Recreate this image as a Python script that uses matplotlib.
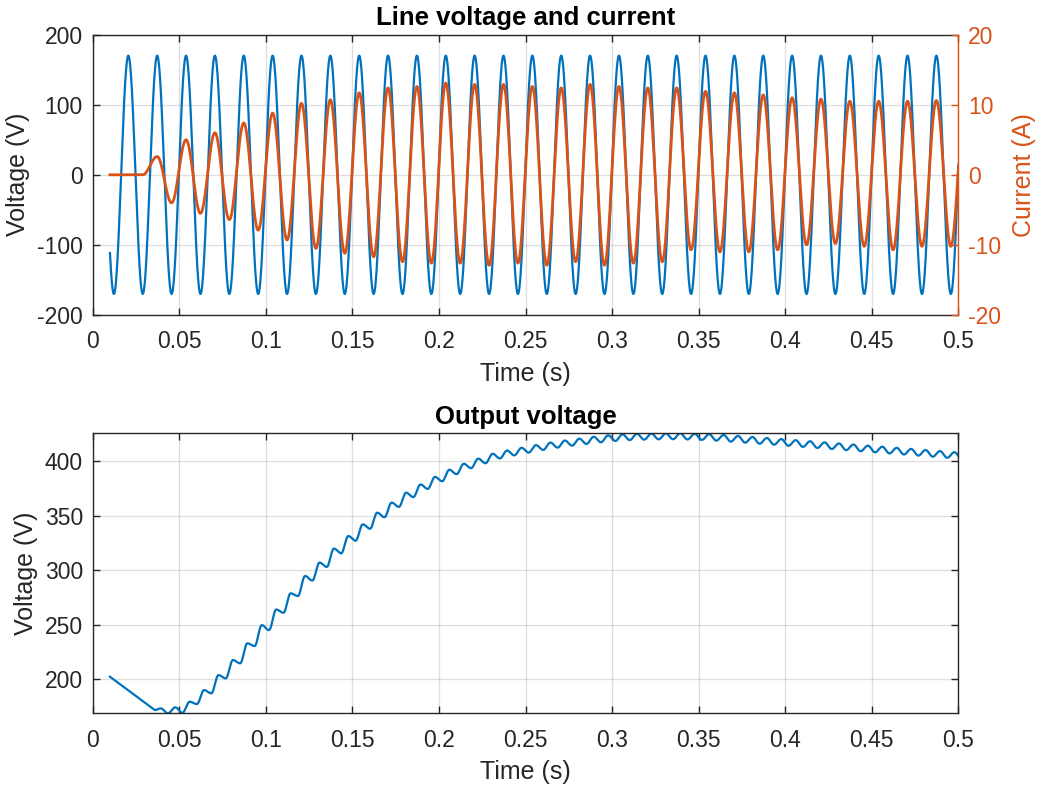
import numpy as np
import matplotlib
matplotlib.use("Agg")
import matplotlib.pyplot as plt
from matplotlib.ticker import FuncFormatter

# ---------------- data ----------------
t_start = 0.01
t_end = 0.5
line_freq_hz = 60.0
first_voltage_peak_t = 0.0206      # time of the first positive line-voltage peak
first_half_cycle_index = -2        # half-cycle index of the first listed extreme

# line voltage extremes, one per half cycle (V), k = -2 .. 59
line_voltage_extremes = [170, -170] * 31

# line current extremes, one per half cycle (A), k = -2 .. 59
line_current_extremes = [
    0, 0, 0, 0, 2.6, -4.0, 5.0, -5.5, 6.0, -6.4,
    7.4, -7.9, 8.8, -9.3, 10.2, -10.5, 10.7, -11.2, 11.7, -11.7,
    12.4, -12.4, 12.6, -12.6, 13.1, -12.6, 12.9, -12.9, 12.9, -12.6,
    12.6, -12.9, 12.4, -12.4, 12.9, -12.9, 12.6, -12.6, 12.4, -12.4,
    12.4, -10.7, 11.9, -11.0, 11.7, -11.0, 11.4, -10.7, 11.0, -10.0,
    10.8, -9.8, 10.5, -10.2, 10.5, -10.7, 10.5, -10.2, 10.6, -10.2,
    10.5, -10.5,
]

# output voltage: initial discharge segment (no ripple yet)
vout_initial_t = [0.01, 0.0358]
vout_initial_v = [202.4, 171.9]
# output voltage ripple maxima / minima, one pair per line half cycle, k = 2 .. 57
vout_first_ripple_index = 2
vout_ripple_max = [
    173.4, 174.4, 179.5, 190.2, 203.9, 217.7, 233.0, 249.7, 264.0, 278.8,
    294.7, 307.0, 319.8, 331.3, 342.0, 352.7, 361.9, 371.0, 378.5, 385.5,
    392.0, 397.5, 402.2, 406.6, 409.6, 412.1, 414.6, 416.9, 418.8, 420.5,
    422.2, 423.5, 424.4, 425.0, 425.2, 425.4, 425.4, 425.0, 424.6, 423.9,
    423.0, 422.0, 421.1, 420.1, 419.1, 418.1, 417.1, 416.1, 415.1, 414.1,
    413.1, 412.1, 411.1, 410.1, 409.1, 408.1,
]
vout_ripple_min = [
    168.9, 169.4, 177.4, 187.2, 200.9, 214.7, 230.5, 245.1, 261.0, 276.4,
    290.5, 303.0, 315.5, 327.0, 338.0, 348.5, 358.0, 367.0, 374.5, 381.5,
    388.0, 393.5, 398.0, 402.4, 405.2, 407.8, 410.2, 412.3, 414.1, 415.7,
    417.2, 418.4, 419.2, 419.6, 419.9, 420.0, 419.8, 419.4, 418.7, 417.8,
    416.9, 415.9, 415.0, 414.0, 413.0, 412.0, 411.0, 410.0, 409.0, 408.0,
    407.0, 406.0, 405.0, 404.0, 403.0, 402.0,
]

time_ticks = [0, 0.05, 0.1, 0.15, 0.2, 0.25, 0.3, 0.35, 0.4, 0.45, 0.5]
voltage_ticks = [-200, -100, 0, 100, 200]
current_ticks = [-20, -10, 0, 10, 20]
vout_ticks = [200, 250, 300, 350, 400]

# ---------------- waveform drawing helpers ----------------
half_period = 0.5 / line_freq_hz


def cosine_join(node_t, node_y, t):
    """Smooth half-cosine joins between successive extremes."""
    node_t = np.asarray(node_t, float)
    node_y = np.asarray(node_y, float)
    i = np.clip(np.searchsorted(node_t, t, side="right") - 1, 0, len(node_t) - 2)
    s = (t - node_t[i]) / (node_t[i + 1] - node_t[i])
    w = (1 - np.cos(np.pi * s)) / 2
    return node_y[i] + (node_y[i + 1] - node_y[i]) * w


t = np.linspace(t_start, t_end, 20001)
k_line = first_half_cycle_index + np.arange(len(line_voltage_extremes))
t_line_nodes = first_voltage_peak_t + k_line * half_period
v_line = cosine_join(t_line_nodes, line_voltage_extremes, t)
i_line = cosine_join(t_line_nodes, line_current_extremes, t)

k_rip = vout_first_ripple_index + np.arange(len(vout_ripple_max))
t_max = first_voltage_peak_t + k_rip * half_period + half_period / 4
t_min = first_voltage_peak_t + k_rip * half_period + 3 * half_period / 4
rip_t = np.empty(2 * len(k_rip))
rip_v = np.empty(2 * len(k_rip))
rip_t[0::2], rip_t[1::2] = t_max, t_min
rip_v[0::2], rip_v[1::2] = vout_ripple_max, vout_ripple_min
node_t = np.concatenate([[vout_initial_t[-1]], rip_t])
node_v = np.concatenate([[vout_initial_v[-1]], rip_v])
t_rip = np.linspace(vout_initial_t[-1], t_end, 20001)
vout_t = np.concatenate([[vout_initial_t[0]], t_rip])
vout_v = np.concatenate([[vout_initial_v[0]], cosine_join(node_t, node_v, t_rip)])

# ---------------- styling ----------------
plt.rcParams['font.family'] = ['Liberation Sans', 'DejaVu Sans']
BLUE = '#0072BD'
ORANGE = '#D95319'
DARK = '#262626'
TICK_FS = 16.5
LABEL_FS = 18
TITLE_FS = 18.5
XPAD = 11
YPAD = 7


def fmt(v, pos):
    return '%g' % v


def style_axes(ax):
    ax.set_facecolor('white')
    for sp in ax.spines.values():
        sp.set_color(DARK)
        sp.set_linewidth(1.0)
    ax.tick_params(direction='in', length=5, width=1.0, colors=DARK,
                   labelsize=TICK_FS, top=True)
    ax.tick_params(axis='x', pad=XPAD)
    ax.tick_params(axis='y', pad=YPAD)
    ax.xaxis.set_major_formatter(FuncFormatter(fmt))
    ax.yaxis.set_major_formatter(FuncFormatter(fmt))
    ax.grid(True, color=DARK, alpha=0.15, linewidth=0.9)
    ax.set_axisbelow(True)


fig = plt.figure(figsize=(10.41, 7.91), dpi=100)

# ----- top: line voltage and current -----
ax1 = fig.add_axes([0.0890, 0.6018, 0.8317, 0.3544])
style_axes(ax1)
ax1.tick_params(axis='y', right=False)
ax1.plot(t, v_line, color=BLUE, linewidth=1.6)
ax1.set_xlim(0, 0.5)
ax1.set_ylim(-200, 200)
ax1.set_xticks(time_ticks)
ax1.set_yticks(voltage_ticks)
ax1.set_xlabel('Time (s)', fontsize=LABEL_FS, color=DARK, labelpad=6)
ax1.set_ylabel('Voltage (V)', fontsize=LABEL_FS, color=DARK, labelpad=5)
ax1.set_title('Line voltage and current', fontsize=TITLE_FS, fontweight='bold',
              color='black', pad=7)
ax1.spines['right'].set_visible(False)

ax2 = ax1.twinx()
ax2.plot(t, i_line, color=ORANGE, linewidth=2.0)
ax2.set_ylim(-20, 20)
ax2.set_yticks(current_ticks)
ax2.yaxis.set_major_formatter(FuncFormatter(fmt))
for name in ('left', 'top', 'bottom'):
    ax2.spines[name].set_visible(False)
ax2.spines['right'].set_color(ORANGE)
ax2.spines['right'].set_linewidth(1.0)
ax2.tick_params(axis='y', direction='in', length=5, width=1.0, colors=ORANGE,
                labelsize=TICK_FS, pad=YPAD)
ax2.set_ylabel('Current (A)', fontsize=LABEL_FS, color=ORANGE, labelpad=8)

# ----- bottom: output voltage -----
ax3 = fig.add_axes([0.0890, 0.0982, 0.8317, 0.3540])
style_axes(ax3)
ax3.tick_params(axis='y', right=True)
ax3.plot(vout_t, vout_v, color=BLUE, linewidth=1.6)
ax3.set_xlim(0, 0.5)
ax3.set_ylim(min(vout_v.min(), min(vout_initial_v)), vout_v.max())
ax3.set_xticks(time_ticks)
ax3.set_yticks(vout_ticks)
ax3.set_xlabel('Time (s)', fontsize=LABEL_FS, color=DARK, labelpad=6)
ax3.set_ylabel('Voltage (V)', fontsize=LABEL_FS, color=DARK, labelpad=5)
ax3.set_title('Output voltage', fontsize=TITLE_FS, fontweight='bold',
              color='black', pad=7)

fig.savefig('out.png', dpi=100, facecolor='white')
